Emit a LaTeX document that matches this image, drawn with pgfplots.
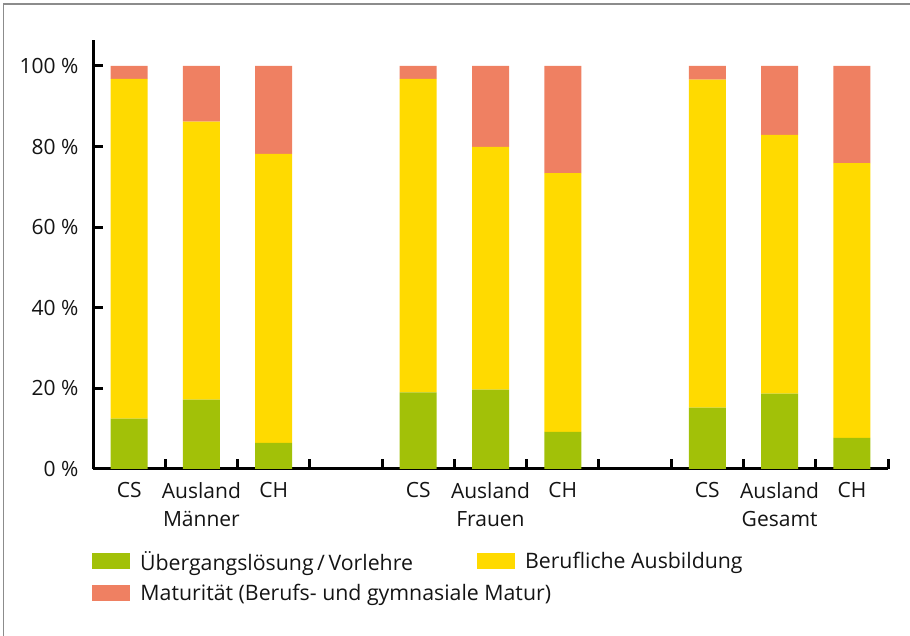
\documentclass[border=0pt]{standalone}
\usepackage{pgfplots}
\pgfplotsset{compat=1.18}
\usepackage{fontspec}
\setmainfont{Open Sans}
\definecolor{cgreen}{HTML}{A2C108}
\definecolor{cyellow}{HTML}{FFDA00}
\definecolor{cred}{HTML}{EF8062}
\definecolor{ctext}{HTML}{141414}
\begin{document}
\begin{tikzpicture}[x=1bp,y=1bp]
\path[use as bounding box] (0,0) rectangle (910,636);
\draw[color=gray!90, line width=1.6bp] (3.5,0) -- (3.5,632) -- (910,632);
\begin{axis}[
  at={(93bp,167bp)}, anchor=south west,
  scale only axis, width=795bp, height=429bp,
  xmin=-0.5, xmax=10.5, ymin=0, ymax=106.45,
  axis lines=left,
  axis line style={-, line width=3bp, black},
  ybar stacked, bar width=37bp,
  xtick={0,1,2,4,5,6,8,9,10},
  xticklabels={CS,{Ausland\\Männer},CH,CS,{Ausland\\Frauen},CH,CS,{Ausland\\Gesamt},CH},
  minor xtick={-0.5,0.5,1.5,2.5,3.5,4.5,5.5,6.5,7.5,8.5,9.5,10.5},
  major x tick style={draw=none},
  minor x tick style={line width=3bp, black},
  ytick={0,20,40,60,80,100},
  yticklabels={0 \%,20 \%,40 \%,60 \%,80 \%,100 \%},
  y tick style={line width=3bp, black},
  tick align=inside,
  major tick length=10bp, minor tick length=10bp,
  xticklabel style={align=center, font=\fontsize{21bp}{28bp}\selectfont, text=ctext, yshift=-10bp},
  yticklabel style={font=\fontsize{21bp}{28bp}\selectfont, text=ctext, xshift=-11bp},
  legend columns=2,
  legend style={at={(axis description cs:0,0)}, anchor=north west, xshift=-1bp, yshift=-82bp,
    draw=none, fill=none, inner sep=0pt, outer sep=0pt,
    font=\fontsize{21.3bp}{28bp}\selectfont, text=ctext,
    nodes={inner sep=0pt}, row sep=13bp,
    /tikz/every odd column/.style={column sep=10bp},
    /tikz/column 2/.style={column sep=64bp}},
  legend cell align=left,
  legend image code/.code={\fill[#1] (0bp,-8bp) rectangle (38bp,8bp);},
]
\addplot[fill=cgreen, draw=none] coordinates {(0,12.5)(1,17.2)(2,6.5)(4,19.0)(5,19.7)(6,9.2)(8,15.2)(9,18.7)(10,7.7)};
\addlegendentry{Übergangslösung\,/\,Vorlehre}
\addplot[fill=cyellow, draw=none] coordinates {(0,84.3)(1,69.0)(2,71.7)(4,77.8)(5,60.2)(6,64.2)(8,81.4)(9,64.2)(10,68.2)};
\addlegendentry{Berufliche Ausbildung}
\addplot[fill=cred, draw=none] coordinates {(0,3.2)(1,13.8)(2,21.8)(4,3.2)(5,20.1)(6,26.6)(8,3.4)(9,17.1)(10,24.1)};
\addlegendentry{\makebox[0pt][l]{Maturität (Berufs- und gymnasiale Matur)}}
\end{axis}
\end{tikzpicture}
\end{document}
